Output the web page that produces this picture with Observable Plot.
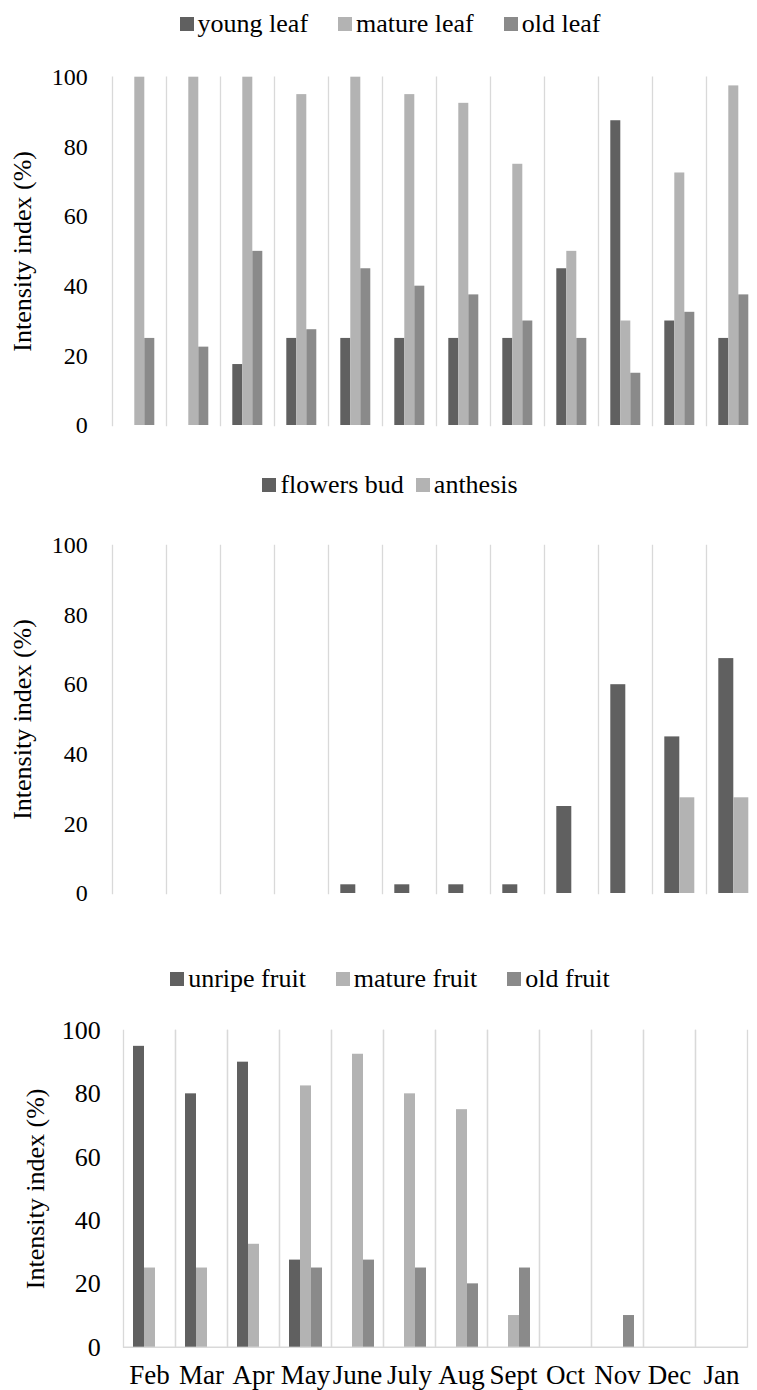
<!DOCTYPE html>
<html><head><meta charset="utf-8">
<script src="https://cdn.jsdelivr.net/npm/d3@7"></script>
<script src="https://cdn.jsdelivr.net/npm/@observablehq/plot@0.6"></script>
<style>
html,body{margin:0;padding:0;background:#fff;overflow:hidden;}
#root{position:relative;width:757px;height:1390px;font-family:"Liberation Serif","DejaVu Serif",serif;}
.legend{position:absolute;left:0;width:757px;box-sizing:border-box;padding-left:23px;height:30px;display:flex;justify-content:center;align-items:center;font-size:26px;color:#000;white-space:nowrap;}
.item{display:flex;align-items:center;}
.sw{display:inline-block;width:14px;height:14px;margin-right:4px;}
.panel{position:absolute;left:0;}
</style></head><body><div id="root"></div>
<script>
const months = ["Feb","Mar","Apr","May","June","July","Aug","Sept","Oct","Nov","Dec","Jan"];
const yTicks = [0,20,40,60,80,100];
const yTitle = "Intensity index (%)";

const leafSeries = ["young leaf","mature leaf","old leaf"];
const youngLeaf  = [0,0,17.5,25,25,25,25,25,45,87.5,30,25];
const matureLeaf = [100,100,100,95,100,95,92.5,75,50,30,72.5,97.5];
const oldLeaf    = [25,22.5,50,27.5,45,40,37.5,30,25,15,32.5,37.5];

const flowerSeries = ["flowers bud","anthesis"];
const flowersBud = [0,0,0,0,2.5,2.5,2.5,2.5,25,60,45,67.5];
const anthesis   = [0,0,0,0,0,0,0,0,0,0,27.5,27.5];

const fruitSeries = ["unripe fruit","mature fruit","old fruit"];
const unripeFruit = [95,80,90,27.5,0,0,0,0,0,0,0,0];
const matureFruit = [25,25,32.5,82.5,92.5,80,75,10,0,0,0,0];
const oldFruit    = [0,0,0,25,27.5,25,20,25,0,10,0,0];

const colors3 = ["#606060","#b3b3b3","#8a8a8a"];
const colors2 = ["#606060","#b3b3b3"];

const FONT = '"Liberation Serif","DejaVu Serif",serif';
const root = document.getElementById("root");

function legend(series, colors, centerY, gap) {
  const div = document.createElement("div");
  div.className = "legend";
  div.style.top = (centerY - 15) + "px";
  div.style.gap = gap + "px";
  series.forEach((s, i) => {
    const it = document.createElement("span");
    it.className = "item";
    const sw = document.createElement("span");
    sw.className = "sw";
    sw.style.background = colors[i];
    it.appendChild(sw);
    it.appendChild(document.createTextNode(s));
    div.appendChild(it);
  });
  root.appendChild(div);
}

function panel(o) {
  const data = [];
  o.series.forEach((s, i) => o.values[i].forEach((v, j) => data.push({month: months[j], series: s, value: v})));
  const marks = [
    Plot.frame({anchor: "left", stroke: "#d9d9d9", strokeWidth: 1.3}),
    o.baseline ? Plot.frame({anchor: "right", stroke: "#d9d9d9", strokeWidth: 1.3}) : null,
    o.baseline ? Plot.ruleY([0], {stroke: "#d9d9d9", strokeWidth: 1.5}) : null,
    Plot.barY(data, {fx: "month", x: "series", y: "value", fill: "series"}),
    Plot.axisY({ticks: yTicks, tickSize: 0, tickPadding: o.tickPadding, fontSize: o.tickFont, label: null}),
    Plot.axisY({ticks: yTicks, tickSize: 0, tickFormat: () => "", label: yTitle, labelAnchor: "center", labelArrow: "none", labelOffset: o.labelOffset, fontSize: 26}),
    o.showMonths ? Plot.axisFx({anchor: "bottom", tickSize: 0, tickPadding: 18, fontSize: 27, label: null}) : null
  ].filter(Boolean);
  const chart = Plot.plot({
    width: 757, height: o.height,
    marginTop: o.marginTop, marginBottom: o.marginBottom, marginLeft: o.marginLeft, marginRight: o.marginRight,
    style: {fontFamily: FONT, fontSize: "24px", color: "#000", background: "transparent"},
    fx: o.showMonths ? {domain: months, padding: 0, label: null} : {domain: months, padding: 0, axis: null, label: null},
    x: {domain: o.series, paddingInner: 0, paddingOuter: o.po, axis: null},
    y: {domain: [0, 100]},
    color: {domain: o.series, range: o.colors},
    marks
  });
  const wrap = document.createElement("div");
  wrap.className = "panel";
  wrap.style.top = o.top + "px";
  wrap.appendChild(chart);
  root.appendChild(wrap);
}

panel({series: leafSeries, values: [youngLeaf, matureLeaf, oldLeaf], colors: colors3,
  top: 0, height: 445, marginTop: 76.7, marginBottom: 20, marginLeft: 107.7, marginRight: -8.3,
  po: 1, tickFont: 24, tickPadding: 24.7, labelOffset: 99.5, showMonths: false, baseline: false});
panel({series: flowerSeries, values: [flowersBud, anthesis], colors: colors2,
  top: 445, height: 468, marginTop: 100, marginBottom: 20, marginLeft: 107.7, marginRight: -8.3,
  po: 0.76, tickFont: 24, tickPadding: 24.7, labelOffset: 99.5, showMonths: false, baseline: false});
panel({series: fruitSeries, values: [unripeFruit, matureFruit, oldFruit], colors: colors3,
  top: 913, height: 477, marginTop: 117, marginBottom: 43.3, marginLeft: 122, marginRight: 8.7,
  po: 0.75, tickFont: 26, tickPadding: 22.7, labelOffset: 98, showMonths: true, baseline: true});

legend(leafSeries, colors3, 23.7, 30);
legend(flowerSeries, colors2, 485, 12);
legend(fruitSeries, colors3, 979, 30);
</script></body></html>
